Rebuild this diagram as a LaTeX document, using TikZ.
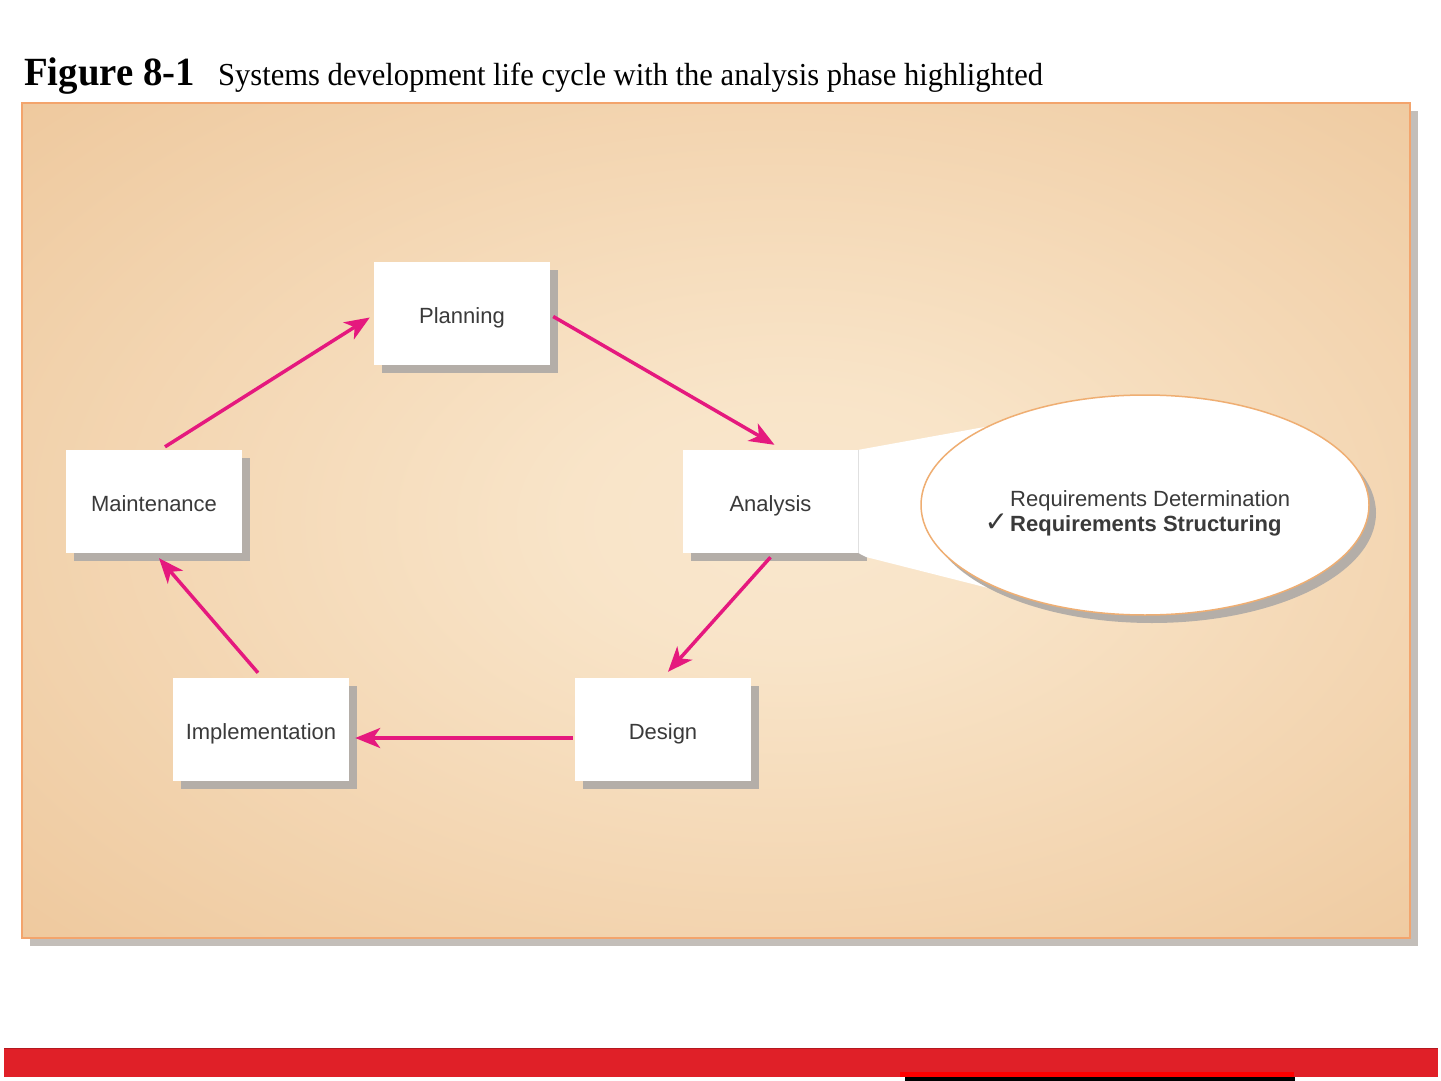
\documentclass[tikz,border=0pt]{standalone}
\usepackage{fontspec}
\setmainfont{Liberation Serif}
\setsansfont{Liberation Sans}
\newfontfamily\checkfont{DejaVu Sans}
\usetikzlibrary{shapes.geometric,arrows.meta,shadows}

\definecolor{arrowc}{HTML}{E5197E}
\definecolor{txtc}{HTML}{3A3A3A}
\definecolor{panelborder}{HTML}{F3A46C}
\definecolor{ellborder}{HTML}{EFAE72}
\definecolor{shadowc}{HTML}{B4AEA8}
\definecolor{barred}{HTML}{E02028}
\definecolor{brightred}{HTML}{FF0000}

\pgfdeclareradialshading{panelshade}{\pgfpoint{3bp}{0bp}}{%
  rgb(0bp)=(0.978,0.905,0.805);
  rgb(8bp)=(0.975,0.895,0.785);
  rgb(40bp)=(0.930,0.775,0.600);
  rgb(60bp)=(0.910,0.730,0.540);
  rgb(75bp)=(0.900,0.715,0.520)}

\tikzset{
  phase/.style={rectangle, fill=white, draw=none,
    minimum width=176pt, minimum height=103pt, inner sep=0pt,
    text height=19pt, text depth=0pt,
    font=\sffamily\fontsize{22}{26}\selectfont, text=txtc,
    general shadow={fill=shadowc, shadow xshift=8pt, shadow yshift=-8pt}},
  flow/.style={draw=arrowc, line width=3.5pt,
    -{Stealth[length=25pt, width=20pt, inset=7pt]}},
  reqtext/.style={inner sep=0pt, text=txtc,
    font=\sffamily\fontsize{22}{26}\selectfont}
}

\begin{document}
\begin{tikzpicture}[x=1pt, y=-1pt]
\useasboundingbox (0,0) rectangle (1441,1081);
\fill[white] (0,0) rectangle (1441,1081);

% title
\node[anchor=base west, inner sep=0pt] (fig) at (24,85)
  {\scalebox{0.97}[1]{\fontsize{40}{44}\selectfont\bfseries Figure 8-1}};
\node[anchor=base west, inner sep=0pt] (cap) at (218,85)
  {\scalebox{0.955}[1]{\fontsize{32}{36}\selectfont Systems development life cycle with the analysis phase highlighted}};

% panel
\fill[shadowc!80] (30,111) rectangle (1418,946);
\shade[shading=panelshade] (22,103) rectangle (1410,938);
\draw[panelborder, line width=2pt] (22,103) rectangle (1410,938);

% phases
\node[phase] (pl) at (462,313.5) {Planning};
\node[phase] (mt) at (154,501.5) {Maintenance};
\node[phase] (an) at (770.5,501.5) {Analysis};
\node[phase] (im) at (261,729.5) {Implementation};
\node[phase] (ds) at (663,729.5) {Design};

% funnel to the callout
\coordinate (ft) at (990,426);
\coordinate (fb) at (1012,594);
\coordinate (fbs) at (866,557);
\fill[white] (an.north east) -- (ft) -- (fb) -- (fbs) -- (an.south east) -- cycle;
\draw[black!12, line width=1pt] (an.north east) -- (an.south east);

% callout ellipse
\node[ellipse, draw=ellborder, line width=1.5pt, fill=white,
  minimum width=448pt, minimum height=220pt,
  general shadow={fill=shadowc, shadow xshift=7pt, shadow yshift=-8pt}]
  (ell) at (1145,505) {};

\node[reqtext, anchor=base west] (rq1) at (1010,506) {Requirements Determination};
\node[reqtext, anchor=base west, font=\sffamily\bfseries\fontsize{22}{26}\selectfont] (rq2) at (1010,531)
  {\llap{{\checkfont\bfseries\fontsize{28}{30}\selectfont ✓}\hspace{2pt}}Requirements Structuring};

% connectors
\draw[flow] ([xshift=11pt,yshift=3pt]mt.north) -- ([xshift=-4pt,yshift=-4pt]pl.west);
\draw[flow] ([xshift=3pt,yshift=-3pt]pl.east) -- ([xshift=4pt,yshift=5pt]an.north);
\draw[flow] ([yshift=-4pt]an.south) -- ([xshift=5pt,yshift=6pt]ds.north);
\draw[flow] ([xshift=-2pt,yshift=-8.5pt]ds.west) -- ([xshift=6pt,yshift=-8.5pt]im.east);
\draw[flow] ([xshift=-3pt,yshift=5pt]im.north) -- ([xshift=5pt,yshift=-5pt]mt.south);

% bottom bar
\fill[barred] (4,1048) rectangle (1438,1077);
\draw[barred!80!black, line width=1pt] (4,1048.5) -- (1438,1048.5);
\fill[brightred] (900,1072) rectangle (1294,1077);
\fill[black] (905,1077) rectangle (1295,1081);
\end{tikzpicture}
\end{document}
